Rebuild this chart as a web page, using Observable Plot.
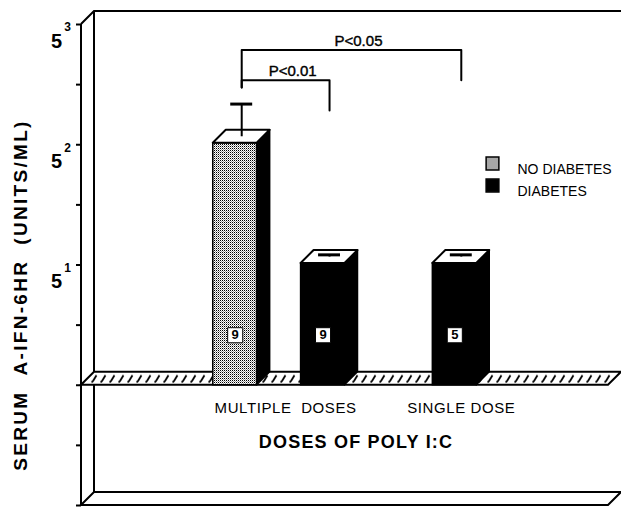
<!DOCTYPE html>
<html><head><meta charset="utf-8">
<script src="https://cdn.jsdelivr.net/npm/d3@7"></script>
<script src="https://cdn.jsdelivr.net/npm/@observablehq/plot@0.6"></script>
<style>
body{margin:0;background:#fff;}
[aria-label="ytitle"]{letter-spacing:2.3px;}
[aria-label="xtitle"]{letter-spacing:1.2px;}
[aria-label="category"]{letter-spacing:0.6px;}
</style>
</head><body>
<div id="chart"></div>
<script>
// ---- data ----
const doses = ["MULTIPLE  DOSES", "SINGLE DOSE"];
const groups = ["NO DIABETES", "DIABETES"];
const barDose = ["MULTIPLE  DOSES", "MULTIPLE  DOSES", "SINGLE DOSE"];
const barGroup = ["NO DIABETES", "DIABETES", "DIABETES"];
const barValue = [25.5, 5.1, 5.1];
const barUpper = [39.5, 5.25, 5.25];
const barN = [9, 9, 5];
const compareFrom = [0, 0];
const compareTo = [1, 2];
const compareLabel = ["P<0.01", "P<0.05"];
const yTickExponents = [-1, -0.5, 0, 0.5, 1, 1.5, 2, 2.5, 3];
const yLabelExponents = [1, 2, 3];
const yTitle = "SERUM  A-IFN-6HR  (UNITS/ML)";
const xTitle = "DOSES OF POLY I:C";

// ---- derived ----
const DEPTH = 13;
const HALF = DEPTH / 2;
const slot = (dose, group) => 3 * doses.indexOf(dose) + 2 * groups.indexOf(group);
const bars = barValue.map((v, i) => ({
  dose: barDose[i], group: barGroup[i], value: v, upper: barUpper[i], n: barN[i],
  pos: slot(barDose[i], barGroup[i])
}));
const catLabels = doses.map(d => ({dose: d, c: d3.mean(bars.filter(b => b.dose === d), b => b.pos + 0.5)}));
const topErr = d3.max(bars, b => b.upper);
const brackets = compareLabel.map((label, i) => {
  const a = bars[compareFrom[i]], b = bars[compareTo[i]];
  const level = topErr * 1.5 ** (i + 1);
  return {label, xa: a.pos + 0.5, xb: b.pos + 0.5, level, left: topErr * 1.5 / 1.1, right: level / 1.5};
});
const bracketPts = brackets.flatMap(b => [
  {label: b.label, x: b.xa, y: b.left},
  {label: b.label, x: b.xa, y: b.level},
  {label: b.label, x: b.xb, y: b.level},
  {label: b.label, x: b.xb, y: b.right}
]);
const nb = s => s.replace(/ /g, "\u00a0");

// ---- custom 3D pieces ----
function box(index, scales, values, dims) {
  const {width, height, marginLeft, marginRight, marginTop, marginBottom} = dims;
  const xl = marginLeft, xr = width - marginRight, yt = marginTop, yb = height - marginBottom;
  const yf = scales.y(1);
  const D = DEPTH;
  const g = d3.create("svg:g").attr("fill", "none").attr("stroke", "#000").attr("stroke-width", 2);
  const defs = g.append("defs");
  const st = defs.append("pattern").attr("id", "stipple").attr("patternUnits", "userSpaceOnUse").attr("width", 2).attr("height", 2);
  st.append("rect").attr("width", 2).attr("height", 2).attr("fill", "#fff").attr("stroke", "none");
  st.append("rect").attr("width", 1).attr("height", 1).attr("fill", "#000").attr("stroke", "none");
  st.append("rect").attr("x", 1).attr("y", 1).attr("width", 1).attr("height", 1).attr("fill", "#999").attr("stroke", "none");
  const h = defs.append("pattern").attr("id", "hatch").attr("patternUnits", "userSpaceOnUse")
    .attr("width", 9).attr("height", D).attr("x", xl).attr("y", yf - D);
  h.append("rect").attr("width", 9).attr("height", D).attr("fill", "#fff").attr("stroke", "none");
  h.append("path").attr("d", "M1.5,10.5Q2.5,10 3.5,8.5L6.5,3.5").attr("stroke", "#000").attr("stroke-width", 1.8).attr("fill", "none");
  // bottom plank
  g.append("path").attr("d", `M${xl},${yb}L${xl + D},${yb - D}L${xr + D},${yb - D}L${xr},${yb}Z`).attr("fill", "#fff");
  // back wall
  g.append("path").attr("d", `M${xl},${yt}L${xl + D},${yt - D}L${xr + D},${yt - D}`);
  g.append("path").attr("d", `M${xl + D},${yt - D}V${yf - D}M${xl + D},${yf}V${yb - D}`);
  // floor slab
  g.append("path").attr("d", `M${xl},${yf}L${xl + D},${yf - D}L${xr + D},${yf - D}L${xr},${yf}Z`).attr("fill", "url(#hatch)");
  // front axis line
  g.append("path").attr("d", `M${xl},${yt}V${yb}`);
  return g.node();
}

function faces(index, scales) {
  const D = DEPTH;
  const y0 = scales.y(1);
  const g = d3.create("svg:g").attr("stroke", "#000").attr("stroke-width", 1.5).attr("stroke-linejoin", "round");
  for (const b of bars) {
    const xl = scales.x(b.pos), xr = scales.x(b.pos + 1), yt = scales.y(b.value);
    g.append("path").attr("d", `M${xr},${yt}L${xr + D},${yt - D}L${xr + D},${y0 - D}L${xr},${y0}Z`).attr("fill", "#000");
    g.append("path").attr("d", `M${xl},${yt}L${xl + D},${yt - D}L${xr + D},${yt - D}L${xr},${yt}Z`).attr("fill", "#fff").attr("stroke-width", 2);
  }
  return g.node();
}

const legendMarks = groups.flatMap((s, i) => [
  Plot.dot([s], {frameAnchor: "top-left", dx: 411, dy: 139 + 22 * i, symbol: "square", r: 7.2, fill: d => d, stroke: "#000", strokeWidth: 1.5}),
  Plot.text([s], {frameAnchor: "top-left", dx: 436, dy: 140 + 22 * i, text: d => d, textAnchor: "start", fontSize: 14, fill: "#000"})
]);

const plot = Plot.plot({
  width: 621,
  height: 509,
  marginTop: 24,
  marginBottom: 4,
  marginLeft: 81,
  marginRight: 13,
  style: {fontFamily: "'Liberation Sans', Arial, Helvetica, sans-serif", color: "#000", background: "#fff"},
  x: {type: "linear", domain: [-3, 9], axis: null},
  y: {type: "log", base: 5, domain: [0.2, 125], axis: null},
  color: {domain: groups, range: ["url(#stipple)", "#000"]},
  marks: [
    box,
    Plot.rect(bars, {x1: d => d.pos, x2: d => d.pos + 1, y1: 1, y2: d => d.value, fill: d => d.group, stroke: "#000", strokeWidth: 1.5}),
    faces,
    Plot.ruleX(bars, {x: d => d.pos + 0.5, y1: d => d.value, y2: d => d.upper, dx: HALF, dy: -HALF, strokeWidth: 2}),
    Plot.ruleY(bars, {y: d => d.upper, x1: d => d.pos + 0.25, x2: d => d.pos + 0.75, dx: HALF, dy: -HALF, strokeWidth: 3}),
    Plot.dot(bars, {x: d => d.pos + 0.5, y: 1, dy: -50, symbol: "square", r: 8.5, fill: "#fff", stroke: "#000", strokeWidth: 1}),
    Plot.text(bars, {x: d => d.pos + 0.5, y: 1, dy: -50, text: d => String(d.n), fontSize: 13, fontWeight: "bold", fill: "#000"}),
    Plot.line(bracketPts, {x: "x", y: "y", z: "label", dx: HALF, stroke: "#000", strokeWidth: 2}),
    Plot.text(brackets, {x: d => (d.xa + d.xb) / 2, y: "level", text: "label", dx: HALF + 7, dy: -4, lineAnchor: "bottom", fontSize: 15, fill: "#000", stroke: "#000", strokeWidth: 0.4}),
    Plot.axisY(yTickExponents.map(e => 5 ** e), {tickSize: 5, tickFormat: () => "", strokeWidth: 2, label: null}),
    Plot.text(yLabelExponents, {y: e => 5 ** e, frameAnchor: "left", text: () => "5", textAnchor: "middle", dx: -25, dy: 17, fontSize: 20, fontWeight: "bold", fill: "#000"}),
    Plot.text(yLabelExponents, {y: e => 5 ** e, frameAnchor: "left", text: e => String(e), textAnchor: "middle", dx: -14, dy: 3, fontSize: 12, fontWeight: "bold", fill: "#000"}),
    Plot.text([yTitle], {frameAnchor: "left", text: d => nb(d), textAnchor: "middle", rotate: -90, dx: -61, dy: 30, fontSize: 19, fontWeight: "bold", fill: "#000", ariaLabel: () => "ytitle"}),
    Plot.text(catLabels, {x: "c", y: 1, text: d => nb(d.dose), dx: HALF, dy: 23, fontSize: 15, fill: "#000", ariaLabel: () => "category"}),
    Plot.text([xTitle], {frameAnchor: "bottom", text: d => d, textAnchor: "middle", dx: 11, dy: -58, fontSize: 18, fontWeight: "bold", fill: "#000", ariaLabel: () => "xtitle"}),
    ...legendMarks
  ]
});
document.getElementById("chart").appendChild(plot);
</script>
</body></html>
